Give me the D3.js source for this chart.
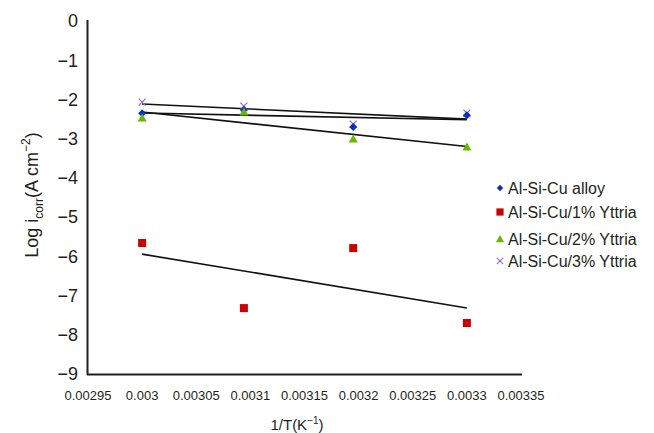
<!DOCTYPE html>
<html><head><meta charset="utf-8">
<script src="https://cdn.jsdelivr.net/npm/d3@7"></script>
<style>body{margin:0;background:#fff}svg{display:block}text{font-family:"Liberation Sans",Arial,sans-serif;fill:#231f20}</style>
</head><body>
<script>
const invT = [0.003, 0.003094, 0.003195, 0.0033];
const alloy = [-2.35, -2.27, -2.70, -2.40];
const yttria1 = [-5.66, -7.32, -5.79, -7.70];
const yttria2 = [-2.47, -2.32, -3.01, -3.21];
const yttria3 = [-2.07, -2.17, -2.63, -2.35];
const seriesNames = ["Al-Si-Cu alloy", "Al-Si-Cu/1% Yttria", "Al-Si-Cu/2% Yttria", "Al-Si-Cu/3% Yttria"];
const seriesColors = ["#0a2fc0", "#cc0000", "#66b800", "#9966cc"];
const xTicks = [0.00295, 0.003, 0.00305, 0.0031, 0.00315, 0.0032, 0.00325, 0.0033, 0.00335];
const xTickLabels = ["0.00295","0.003","0.00305","0.0031","0.00315","0.0032","0.00325","0.0033","0.00335"];
const yTicks = [0,-1,-2,-3,-4,-5,-6,-7,-8,-9];

const W = 654, H = 433;
const svg = d3.select("body").append("svg").attr("width", W).attr("height", H);
const x = d3.scaleLinear().domain([0.00295, 0.00335]).range([88, 521]);
const y = d3.scaleLinear().domain([0, -9]).range([21, 374]);

// axes lines
svg.append("line").attr("x1", 87.5).attr("x2", 87.5).attr("y1", y(0)-1).attr("y2", y(-9)+1).attr("stroke", "#231f20").attr("stroke-width", 2);
svg.append("line").attr("x1", 87).attr("x2", 522).attr("y1", 374.5).attr("y2", 374.5).attr("stroke", "#231f20").attr("stroke-width", 2);

// y tick labels
svg.selectAll(".yt").data(yTicks).enter().append("text")
  .attr("x", 78).attr("y", d => y(d)).attr("dy", "0.35em").attr("text-anchor", "end")
  .style("font-size", "18px").text(d => d === 0 ? "0" : "\u2212" + Math.abs(d));
// x tick labels
svg.selectAll(".xt").data(xTicks).enter().append("text")
  .attr("x", (d) => x(d)).attr("y", 395).attr("dy", "0.35em").attr("text-anchor", "middle")
  .style("font-size", "13px").text((d, i) => xTickLabels[i]);

// axis titles
const xt = svg.append("text").attr("x", 297).attr("y", 430).attr("text-anchor", "middle").style("font-size", "15px");
xt.append("tspan").text("1/T(K");
xt.append("tspan").attr("dy", -6).style("font-size", "10px").text("\u22121");
xt.append("tspan").attr("dy", 6).text(")");

const yt = svg.append("text").attr("transform", "translate(38,195) rotate(-90)").attr("text-anchor", "middle").style("font-size", "18px");
yt.append("tspan").text("Log i");
yt.append("tspan").attr("dy", 5).style("font-size", "12px").text("corr");
yt.append("tspan").attr("dy", -5).text("(A cm");
yt.append("tspan").attr("dy", -8).style("font-size", "12px").text("\u22122");
yt.append("tspan").attr("dy", 8).text(")");

const allSeries = [alloy, yttria1, yttria2, yttria3];

// trend lines (least squares)
function fit(xs, ys) {
  const mx = d3.mean(xs), my = d3.mean(ys);
  let num = 0, den = 0;
  xs.forEach((xv, i) => { num += (xv - mx) * (ys[i] - my); den += (xv - mx) * (xv - mx); });
  const b = num / den, a = my - b * mx;
  return xv => a + b * xv;
}
const xExt = d3.extent(invT);
allSeries.forEach(s => {
  const f = fit(invT, s);
  svg.append("line").attr("x1", x(xExt[0])).attr("y1", y(f(xExt[0])))
    .attr("x2", x(xExt[1])).attr("y2", y(f(xExt[1])))
    .attr("stroke", "#111").attr("stroke-width", 1.6);
});

// markers
function marker(g, type, color) {
  if (type === 0) g.append("path").attr("d", "M0,-4L4,0L0,4L-4,0Z").attr("fill", color);
  else if (type === 1) g.append("rect").attr("x", -4).attr("y", -4).attr("width", 8).attr("height", 8).attr("fill", color);
  else if (type === 2) g.append("path").attr("d", "M0,-4.5L4.5,3.5L-4.5,3.5Z").attr("fill", color);
  else g.append("path").attr("d", "M-3.5,-3.5L3.5,3.5M-3.5,3.5L3.5,-3.5").attr("stroke", color).attr("stroke-width", 1.2).attr("fill", "none");
}
const drawOrder = [3, 0, 1, 2];
drawOrder.forEach(si => {
  allSeries[si].forEach((v, i) => {
    const g = svg.append("g").attr("transform", `translate(${x(invT[i])},${y(v)})`);
    marker(g, si, seriesColors[si]);
  });
});

// legend
const legY = [188, 212, 239, 261];
seriesNames.forEach((n, i) => {
  const g = svg.append("g").attr("transform", `translate(500,${legY[i]})`);
  const mg = g.append("g").attr("transform", i === 0 ? "scale(0.8)" : "scale(0.9)");
  marker(mg, i, seriesColors[i]);
  g.append("text").attr("x", 8).attr("dy", "0.35em").style("font-size", "16px").text(n);
});
</script>
</body></html>
